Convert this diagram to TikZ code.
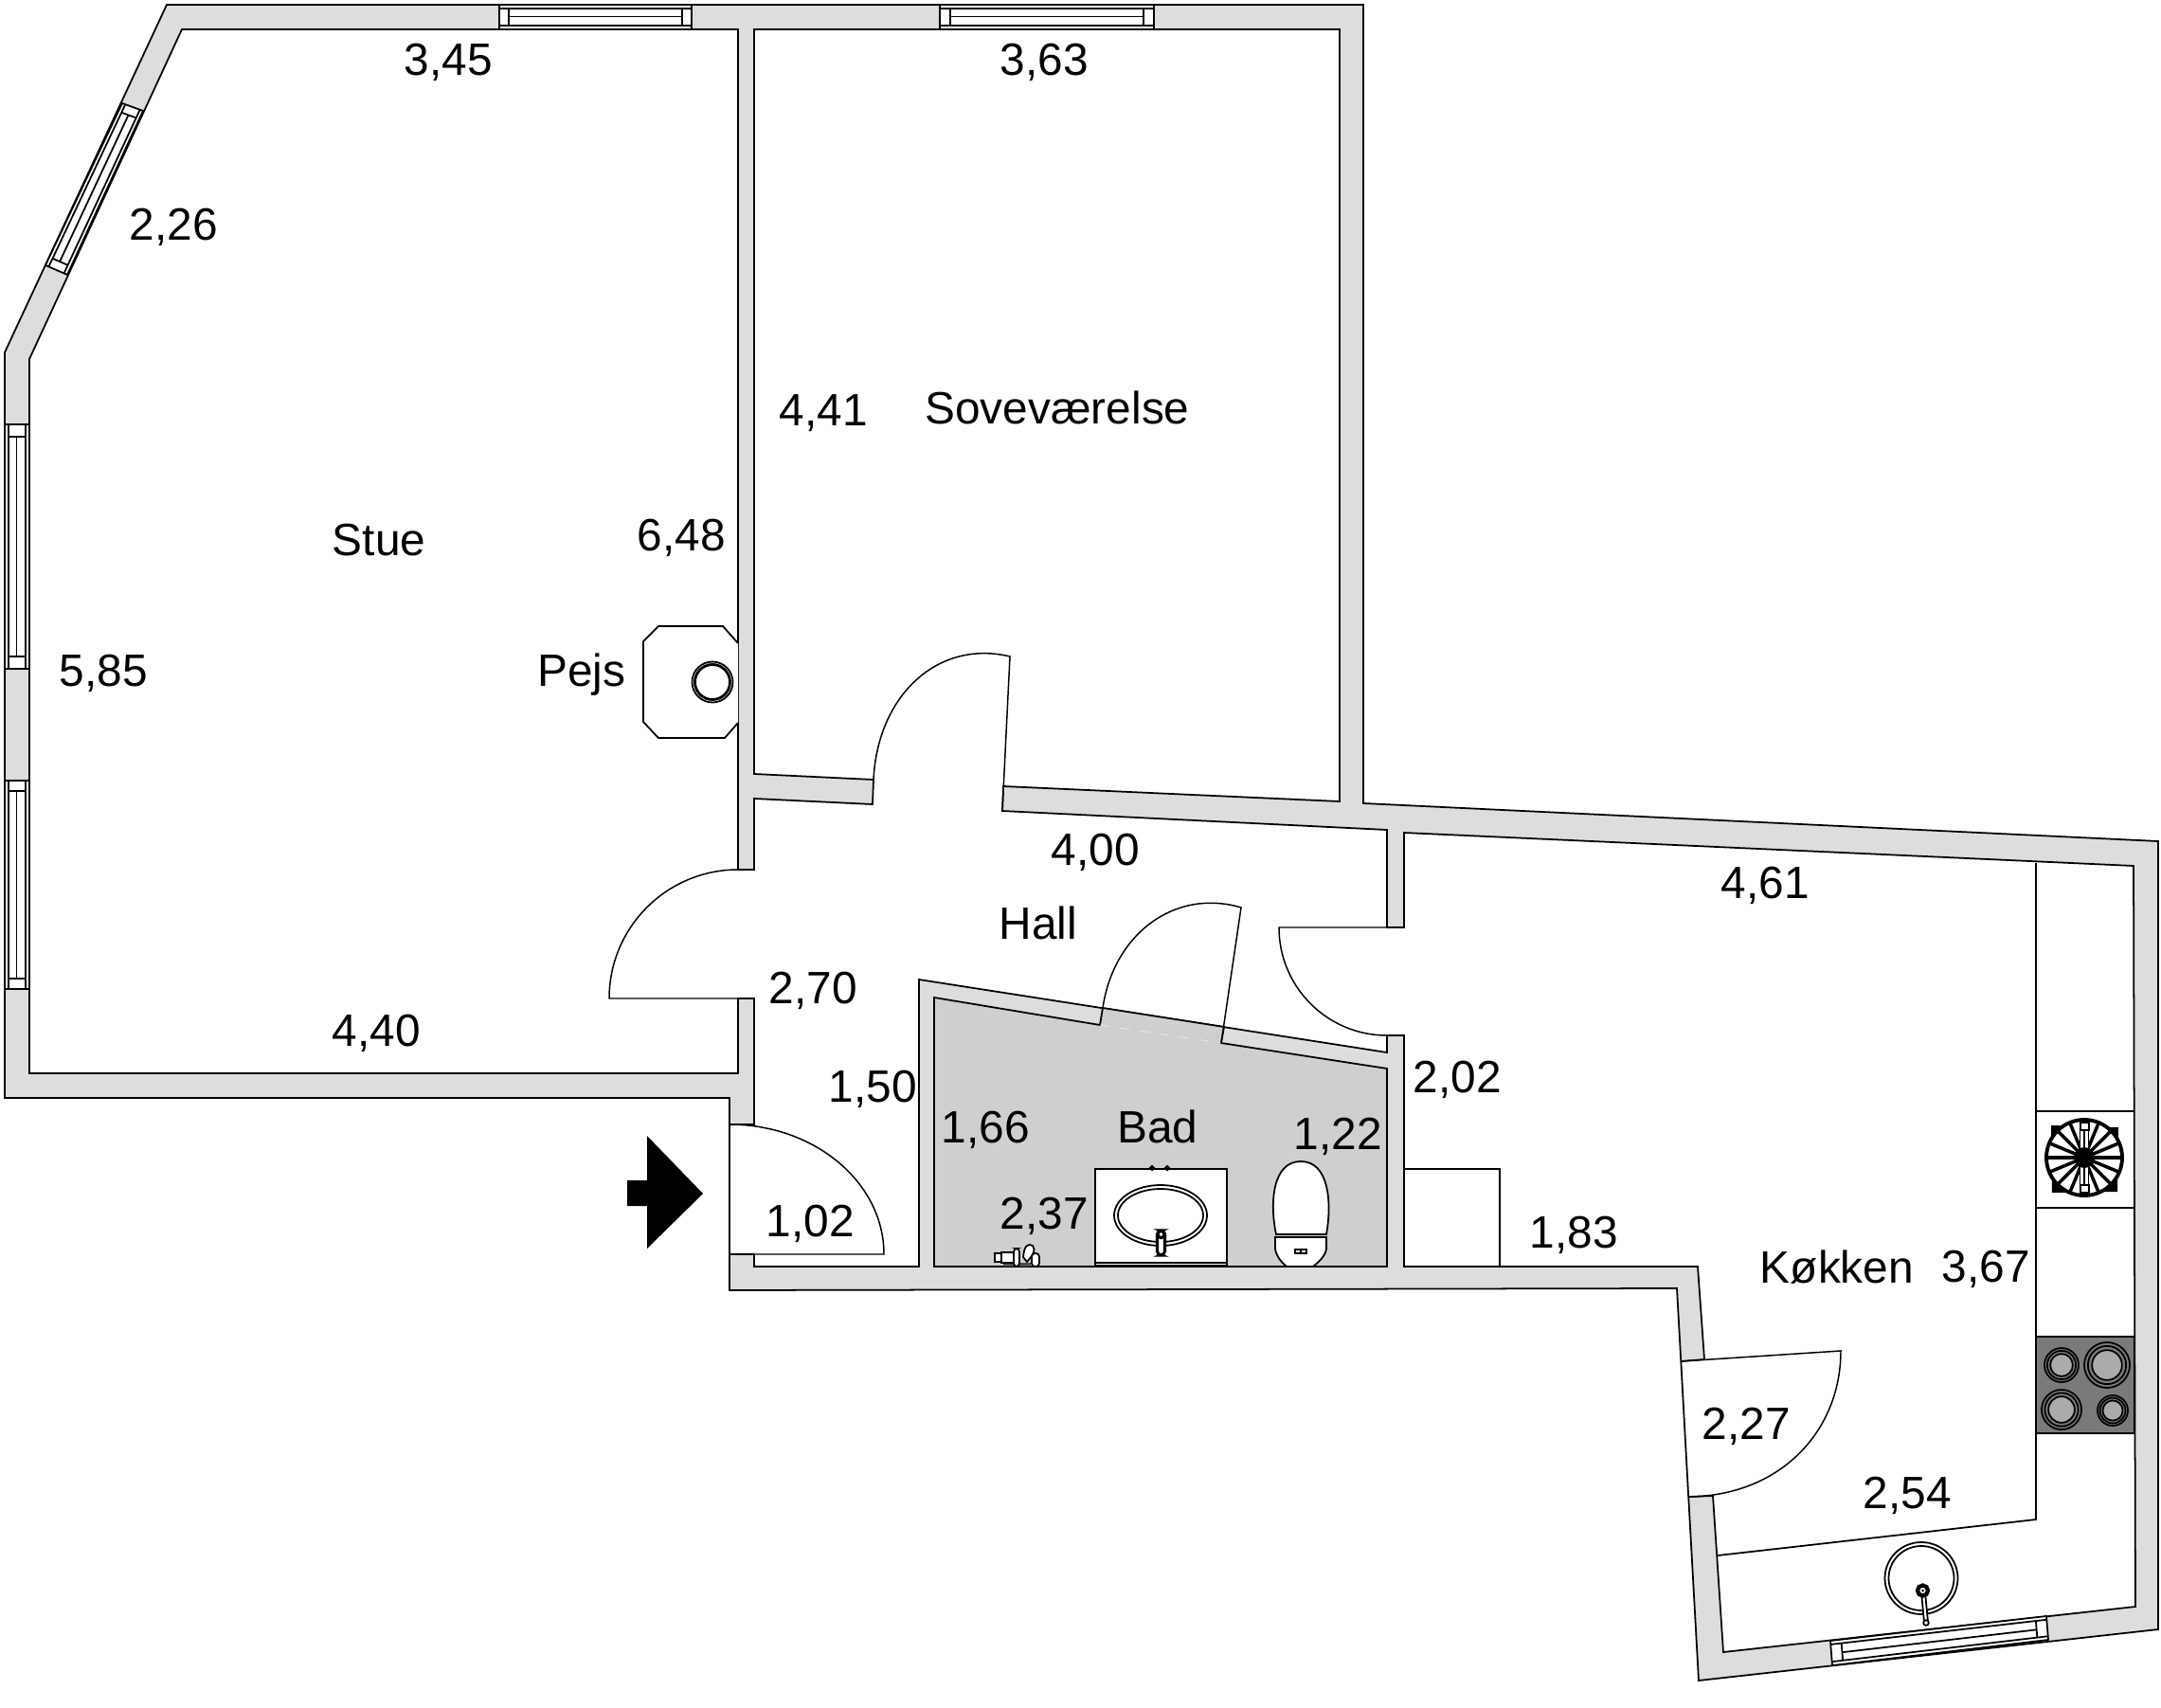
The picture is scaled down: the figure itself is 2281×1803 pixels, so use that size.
\documentclass[tikz,border=0pt]{standalone}
\usepackage{fontspec}
\setmainfont{Liberation Sans}
\usetikzlibrary{calc}
\definecolor{wallgrey}{HTML}{DDDDDD}
\definecolor{bathgrey}{HTML}{CFCFCF}
\definecolor{hobgrey}{HTML}{7A7A7A}
\definecolor{ringgrey}{HTML}{ABABAB}
\tikzset{%
	every path/.style={line width=0.5pt},
	room label/.style={
		anchor=base,
		inner sep=0pt,
		font=\fontsize{13.6}{15}\selectfont
	},
	size label/.style={
		room label,
		xshift=0.012cm
	},
	door leaf/.style={draw,line width=0.42pt},
	fixture/.style={draw,fill=white,line width=0.5pt},
}
% one glazed opening: #1-#2 is the outer side, #3-#4 the inner side
\newcommand{\glazing}[4]{
	\filldraw[fill=white] (#1) -- (#2) -- (#4) -- (#3) -- cycle;
	\coordinate (pa) at ($(#1)!.15!(#3)$);
	\coordinate (pb) at ($(#2)!.15!(#4)$);
	\coordinate (pc) at ($(#1)!.85!(#3)$);
	\coordinate (pd) at ($(#2)!.85!(#4)$);
	\coordinate (pe) at ($(#1)!.48!(#3)$);
	\coordinate (pf) at ($(#2)!.48!(#4)$);
	\draw (pa) -- (pb);
	\draw (pc) -- (pd);
	\draw ($(pa)!.05!(pb)$) -- ($(pc)!.05!(pd)$);
	\draw ($(pa)!.95!(pb)$) -- ($(pc)!.95!(pd)$);
	\draw ($(pe)!.05!(pf)$) -- ($(pe)!.95!(pf)$);
}
% door: hinge #1, leaf end #2, swing end on the jamb #3
\newcommand{\doorswing}[3]{
	\draw[door leaf] (#1) -- (#2)
		.. controls ($(#2)+0.5523*(#3)-0.5523*(#1)$) and ($(#3)+0.5523*(#2)-0.5523*(#1)$) .. (#3);
}
\begin{document}
\begin{tikzpicture}[x=0.01cm,y=-0.01cm]
	\useasboundingbox (0,0) rectangle (2281,1803);

	% Walls: outer contour with all the rooms as one hole
	\filldraw[fill=wallgrey,even odd rule]
		(176,5) -- (1439,5) -- (1439,848) -- (2278,888) -- (2278,1720) -- (1793,1774)
		-- (1770,1360) -- (770,1362) -- (770,1159) -- (5,1159) -- (5,372) -- cycle
		(192,31) -- (779,31) -- (779,918) -- (796,918) -- (796,843) -- (921,849)
		-- (922,823) -- (796,817) -- (796,31) -- (1414,31) -- (1414,846) -- (1059,830)
		-- (1058,856) -- (1464,876) -- (1464,979) -- (1482,979) -- (1482,879)
		-- (2252,914) -- (2254,1696) -- (1819,1744) -- (1808,1579) -- (1782.2,1580)
		-- (1774.3,1437) -- (1799,1435) -- (1792,1337) -- (1482,1337) -- (1482,1093)
		-- (1464,1093) -- (1464,1111) -- (970,1034) -- (970,1337) -- (796,1337)
		-- (796,1324) -- (770,1324) -- (770,1187) -- (796,1187) -- (796,1054)
		-- (779,1054) -- (779,1133) -- (31,1133) -- (31,379) -- cycle;

	% Bathroom floor
	\filldraw[fill=bathgrey] (986,1053) -- (1161,1082) -- (1164,1064) -- (1292,1084) -- (1289,1101)
		-- (1464,1128) -- (1464,1337) -- (986,1337) -- cycle;
	\draw[white!60!bathgrey,dashed,line width=0.2pt] (1161,1082) -- (1289,1101);

	% Windows
	\glazing{527,5}{730,5}{527,31}{730,31}
	\glazing{992,5}{1218,5}{992,31}{1218,31}
	\glazing{129,109}{48,280}{151,117}{71,290}
	\glazing{5,448}{5,706}{31,448}{31,706}
	\glazing{5,824}{5,1044}{31,824}{31,1044}
	\glazing{1934,1758}{2162,1731}{1932,1732}{2160,1706}

	% Doors
	\doorswing{779,1054}{643,1054}{779,918}
	\doorswing{1058,856}{1066,693}{922,823}
	\doorswing{1289,1101}{1310,958}{1164,1064}
	\doorswing{1464,979}{1350,979}{1464,1093}
	\doorswing{770,1324}{933,1324}{770,1187}
	\draw[door leaf] (1774.3,1437) -- (1943,1426)
		.. controls (1943,1510) and (1880,1579) .. (1782.2,1580);

	% Entrance arrow
	\fill[black] (742,1260) -- (683,1199) -- (683,1246) -- (662,1246) -- (662,1273) -- (683,1273) -- (683,1318) -- cycle;

	% Fireplace
	\filldraw[fill=white] (779,679) -- (763,661) -- (695,661) -- (679,677) -- (679,762) -- (695,779) -- (765,779) -- (779,763);
	\draw (752,720) circle (21.5);
	\draw[line width=0.8pt] (752,720) circle (18.5);

	% Bathroom fittings
	\node[fixture,minimum width=1.39cm,minimum height=1.02cm,inner sep=0pt] (basin) at (1225.5,1285) {};
	\draw[line width=0.8pt] (1156,1333) -- (1295,1333);
	\draw[line width=0.8pt] (1216,1233) circle (1.5) (1232,1233) circle (1.5);
	\draw (1225,1283) ellipse [x radius=49,y radius=32];
	\draw (1225,1283) ellipse [x radius=45,y radius=28];
	\filldraw[fixture,line width=0.9pt,rounded corners=1.2pt] (1221.5,1299) rectangle (1229.5,1325);
	\filldraw[fill=white,line width=0.9pt] (1225.5,1303) circle (3.6);
	\filldraw[fixture] (1347,1303) .. controls (1340,1270) and (1343,1226) .. (1373,1226)
		.. controls (1403,1226) and (1406,1270) .. (1400,1303) -- cycle;
	\filldraw[fixture] (1346,1306) -- (1400,1306) -- (1400,1318) .. controls (1399,1326) and (1392,1332) .. (1386,1337)
		-- (1358,1337) .. controls (1352,1332) and (1347,1326) .. (1346,1318) -- cycle;
	\draw (1367,1319) rectangle (1379,1323);
	\draw (1373,1318) -- (1373,1324);
	% Small bottles on the floor
	\fill[black!70] (1059,1333) rectangle (1088,1337);
	\filldraw[fixture,line width=0.7pt] (1050,1323) rectangle (1057,1332);
	\filldraw[fixture] (1057,1322) rectangle (1070,1333);
	\filldraw[fixture,rounded corners=1pt] (1070,1318) rectangle (1076,1337);
	\filldraw[fixture] (1080,1327) .. controls (1081,1315) and (1085,1312) .. (1090,1315) .. controls (1094,1320) and (1090,1325) .. (1084,1332) -- cycle;
	\filldraw[fixture,rounded corners=1pt] (1089,1323) rectangle (1097,1337);

	% Kitchen corner box and worktops
	\draw (1482,1234) -- (1583,1234) -- (1583,1337);
	\draw (2149,911) -- (2149,1604) -- (1813,1642);
	\draw (2149,1173) -- (2253,1173);
	\draw (2149,1275) -- (2253,1275);

	% Extractor
	\fill[black] (2165,1188) -- (2236,1190) -- (2235,1258) -- (2166,1259) -- cycle;
	\filldraw[fill=white,line width=1.1pt] (2200,1222) circle (40);
	\foreach \ang in {0,22.5,45,67.5,112.5,135,157.5,180,202.5,225,247.5,292.5,315,337.5}
		\draw[line width=1pt] (2200,1222) -- ++(\ang:40);
	\draw[fill=white,line width=0.5pt] (2195.5,1193) rectangle (2204.5,1251);
	\fill[black] (2198.8,1193) rectangle (2201.2,1251);
	\fill[black] (2200,1222) circle (11);
	\draw[fill=white,line width=0.5pt] (2196,1185) rectangle (2205,1193);
	\draw[fill=white,line width=0.5pt] (2196,1251) rectangle (2205,1259);

	% Hob
	\filldraw[fill=hobgrey] (2149,1411) rectangle (2253,1513);
	\foreach \cx/\cy/\rad in {2176/1441/18,2224/1441/24,2176/1488/21,2230/1489/16} {
		\draw[fill=hobgrey] (\cx,\cy) circle (\rad);
		\draw (\cx,\cy) circle ({\rad*0.84});
		\draw[fill=ringgrey] (\cx,\cy) circle ({\rad*0.66});
	}

	% Kitchen sink
	\draw (2028,1666) ellipse [x radius=38.5,y radius=38];
	\draw (2028,1666) ellipse [x radius=34.5,y radius=34];
	\filldraw[fixture] (2028,1681) -- (2031,1712) -- (2035,1712) -- (2032,1681) -- cycle;
	\filldraw[fill=white,line width=1.2pt] (2029.5,1679) circle (5.5);
	\fill[black] (2029.5,1679) circle (1.5);
	\filldraw[fixture] (2033,1713) circle (2.8);

	% Labels
	\node[room label] (stue) at (400,586) {Stue};
	\node[room label] (sovevaerelse) at (1116,447) {Soveværelse};
	\node[room label] (hall) at (1096,991) {Hall};
	\node[room label] (bad) at (1222,1206) {Bad};
	\node[room label] (koekken) at (1939,1354) {Køkken};
	\node[room label] (pejs) at (614,724) {Pejs};

	\node[size label] (stueTop) at (472,80) {3,45};
	\node[size label] (soveTop) at (1101,80) {3,63};
	\node[size label] (stueSkew) at (182,254) {2,26};
	\node[size label] (stueRight) at (718,581) {6,48};
	\node[size label] (stueLeft) at (108,724) {5,85};
	\node[size label] (stueBottom) at (396,1104) {4,40};
	\node[size label] (soveLeft) at (868,449) {4,41};
	\node[size label] (hallTop) at (1155,913) {4,00};
	\node[size label] (hallLeft) at (857,1059) {2,70};
	\node[size label] (hallRight) at (920,1163) {1,50};
	\node[size label] (hallBottom) at (854,1305) {1,02};
	\node[size label] (badLeft) at (1039,1206) {1,66};
	\node[size label] (badRight) at (1411,1213) {1,22};
	\node[size label] (badBottom) at (1101,1297) {2,37};
	\node[size label] (koekLeft) at (1537,1153) {2,02};
	\node[size label] (koekTop) at (1862,948) {4,61};
	\node[size label] (koekStep) at (1660,1317) {1,83};
	\node[size label] (koekRight) at (2095,1353) {3,67};
	\node[size label] (koekDoor) at (1842,1519) {2,27};
	\node[size label] (koekBottom) at (2012,1592) {2,54};
\end{tikzpicture}
\end{document}
